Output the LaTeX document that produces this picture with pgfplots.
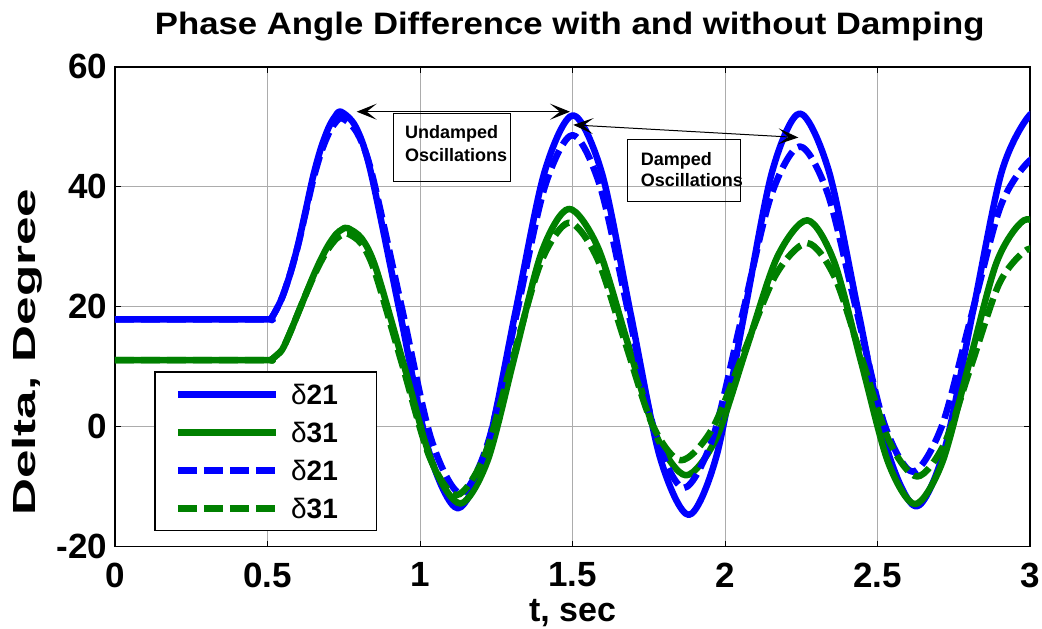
\documentclass[border=0pt]{standalone}
\usepackage{fontspec}
\setmainfont{Liberation Sans}
\usepackage{pgfplots}
\pgfplotsset{compat=1.18}
\usetikzlibrary{arrows.meta}
\definecolor{mgreen}{RGB}{0,128,0}
\begin{document}
\begin{tikzpicture}
\begin{axis}[
  width=915pt, height=480pt, scale only axis,
  xmin=0, xmax=3, ymin=-20, ymax=60,
  xtick={0,0.5,1,1.5,2,2.5,3}, xticklabels={0,0.5,1,1.5,2,2.5,3},
  ytick={-20,0,20,40,60}, yticklabels={-20,0,20,40,60},
  grid=major, grid style={gray!65, line width=0.8pt},
  axis line style={line width=1.6pt},
  tick align=inside, tick pos=both, major tick length=6pt,
  tick style={black, line width=1pt},
  tick label style={font=\fontsize{35}{35}\selectfont\bfseries, inner sep=0pt},
  xticklabel style={yshift=-16pt},
  yticklabel style={xshift=-7.5pt},
  title={\scalebox{1.12}[1]{Phase Angle Difference with and without Damping}},
  title style={font=\fontsize{31}{31}\selectfont\bfseries, at={(axis description cs:0.497,1.0556)}, anchor=base, inner sep=0pt},
  xlabel={t, sec},
  xlabel style={font=\fontsize{34}{34}\selectfont\bfseries, at={(axis description cs:0.5,-0.155)}, anchor=base, inner sep=0pt},
  ylabel={\scalebox{1.6}[1]{Delta, Degree}},
  ylabel style={font=\fontsize{32}{32}\selectfont\bfseries, at={(axis description cs:-0.0874,0.405)}, anchor=base, inner sep=0pt},
  legend cell align=left,
  legend image code/.code={\draw[#1] (0pt,0pt) -- (98pt,0pt);},
  legend style={at={(axis description cs:0.043,0.365)}, anchor=north west,
    draw=black, line width=1.2pt, fill=white,
    inner xsep=19.7pt, inner ysep=12.3pt, row sep=18pt, column sep=12pt,
    font=\fontsize{28}{28}\selectfont\bfseries,
    nodes={inner sep=0pt, text height=20pt, text depth=0pt, text width=66pt, align=left}},
  every axis plot/.append style={smooth, line join=round},
]
\addplot[blue, line width=6.5pt] coordinates {
(0,17.9)(0.25,17.9)(0.5,17.9)(0.51,17.9)(0.53,19.6)(0.55,21.8)(0.575,25.6)(0.60,30.3)(0.625,36.0)(0.65,41.8)(0.675,46.4)(0.70,49.8)(0.72,51.6)(0.741,52.5)
(0.789,50.0)(0.837,42.8)(0.9325,19.45)(1.028,-3.9)(1.124,-13.6)(1.2185,-4.0)(1.313,19.15)(1.4075,42.3)(1.502,51.9)
(1.597,42.15)(1.6915,18.6)(1.786,-4.95)(1.881,-14.7)(1.972,-4.9)(2.063,18.75)(2.154,42.4)(2.245,52.2)
(2.3405,42.6)(2.436,19.45)(2.5315,-3.7)(2.627,-13.3)(2.72,-3.75)(2.8135,19.35)(2.907,42.45)(3.0,52.0)(3.06,51.0)};
\addlegendentry{{\mdseries δ}21}
\addplot[mgreen, line width=6.5pt] coordinates {
(0,11.1)(0.25,11.1)(0.5,11.1)(0.51,11.1)(0.53,11.9)(0.55,13.0)(0.575,15.8)(0.60,18.9)(0.625,22.0)(0.65,25.1)(0.675,27.9)(0.70,30.3)(0.725,32.1)(0.745,32.9)(0.763,33.1)
(0.809,31.35)(0.8555,26.4)(0.948,10.15)(1.0405,-6.1)(1.133,-12.8)(1.222,-5.6)(1.3105,11.75)(1.399,29.1)(1.488,36.3)
(1.584,29.8)(1.68,14.1)(1.776,-1.6)(1.872,-8.1)(1.9715,-1.9)(2.071,13.15)(2.1705,28.2)(2.27,34.4)
(2.358,27.5)(2.4465,10.75)(2.535,-5.95)(2.623,-12.9)(2.712,-6.0)(2.8015,10.75)(2.891,27.45)(2.98,34.4)(3.06,33.0)};
\addlegendentry{{\mdseries δ}31}
\addplot[blue, line width=6.5pt, dash pattern=on 19pt off 7pt] coordinates {
(0,17.9)(0.25,17.9)(0.5,17.9)(0.51,17.9)(0.53,19.6)(0.55,21.8)(0.575,25.6)(0.60,30.2)(0.625,35.7)(0.65,41.2)(0.675,45.6)(0.70,48.8)(0.72,50.5)(0.745,51.4)
(0.7935,49.0)(0.842,42.25)(0.939,20.15)(1.036,-1.95)(1.133,-11.1)(1.2248,-2.35)(1.3165,18.75)(1.4083,39.85)(1.5,48.6)
(1.591,40.0)(1.6825,19.2)(1.774,-1.6)(1.865,-10.2)(1.96,-1.85)(2.055,18.25)(2.15,38.35)(2.245,46.7)
(2.3375,38.75)(2.43,19.6)(2.5225,0.45)(2.615,-7.5)(2.711,0.1)(2.8075,18.45)(2.904,36.8)(3.0,44.4)(3.06,43.8)};
\addlegendentry{{\mdseries δ}21}
\addplot[mgreen, line width=6.5pt, dash pattern=on 19pt off 7pt] coordinates {
(0,11.1)(0.25,11.1)(0.5,11.1)(0.51,11.1)(0.53,11.9)(0.55,13.0)(0.575,15.8)(0.60,18.9)(0.625,22.0)(0.65,24.9)(0.675,27.5)(0.70,29.7)(0.725,31.3)(0.745,32.0)(0.763,32.2)
(0.8076,30.5)(0.852,25.8)(0.9415,10.4)(1.031,-5.0)(1.12,-11.4)(1.212,-4.75)(1.304,11.3)(1.396,27.35)(1.488,34.0)
(1.5798,28.2)(1.6715,14.2)(1.7633,0.2)(1.855,-5.6)(1.9588,-0.3)(2.0625,12.5)(2.1663,25.3)(2.27,30.6)
(2.36,24.9)(2.45,11.15)(2.54,-2.6)(2.63,-8.3)(2.72,-2.75)(2.81,10.6)(2.90,23.95)(2.99,29.5)(3.06,29.0)};
\addlegendentry{{\mdseries δ}31}
% annotations
\draw[line width=1pt] (axis cs:0.9125,40.8) rectangle (axis cs:1.2951,52.2);
\draw[line width=1pt] (axis cs:1.6797,37.5) rectangle (axis cs:2.0492,47.8);
\draw[line width=1pt, {Stealth[length=20pt,width=16pt,inset=10pt]}-{Stealth[length=20pt,width=16pt,inset=10pt]}]
  (axis cs:0.7925,52.5) -- (axis cs:1.4918,52.5);
\draw[line width=1pt, {Stealth[length=20pt,width=16pt,inset=10pt]}-{Stealth[length=20pt,width=16pt,inset=10pt]}]
  (axis cs:1.5026,50.3) -- (axis cs:2.2403,48.2);
\node[anchor=base west, inner sep=0pt, font=\fontsize{18}{18}\selectfont\bfseries] at (axis cs:0.9508,48.07) {Undamped};
\node[anchor=base west, inner sep=0pt, font=\fontsize{18}{18}\selectfont\bfseries] at (axis cs:0.9508,44.17) {Oscillations};
\node[anchor=base west, inner sep=0pt, font=\fontsize{18}{18}\selectfont\bfseries] at (axis cs:1.7236,43.6) {Damped};
\node[anchor=base west, inner sep=0pt, font=\fontsize{18}{18}\selectfont\bfseries] at (axis cs:1.7236,40.0) {Oscillations};
\end{axis}
\pgfresetboundingbox
\path (-115pt,-82.3pt) rectangle (927pt,546.7pt);
\end{tikzpicture}
\end{document}
